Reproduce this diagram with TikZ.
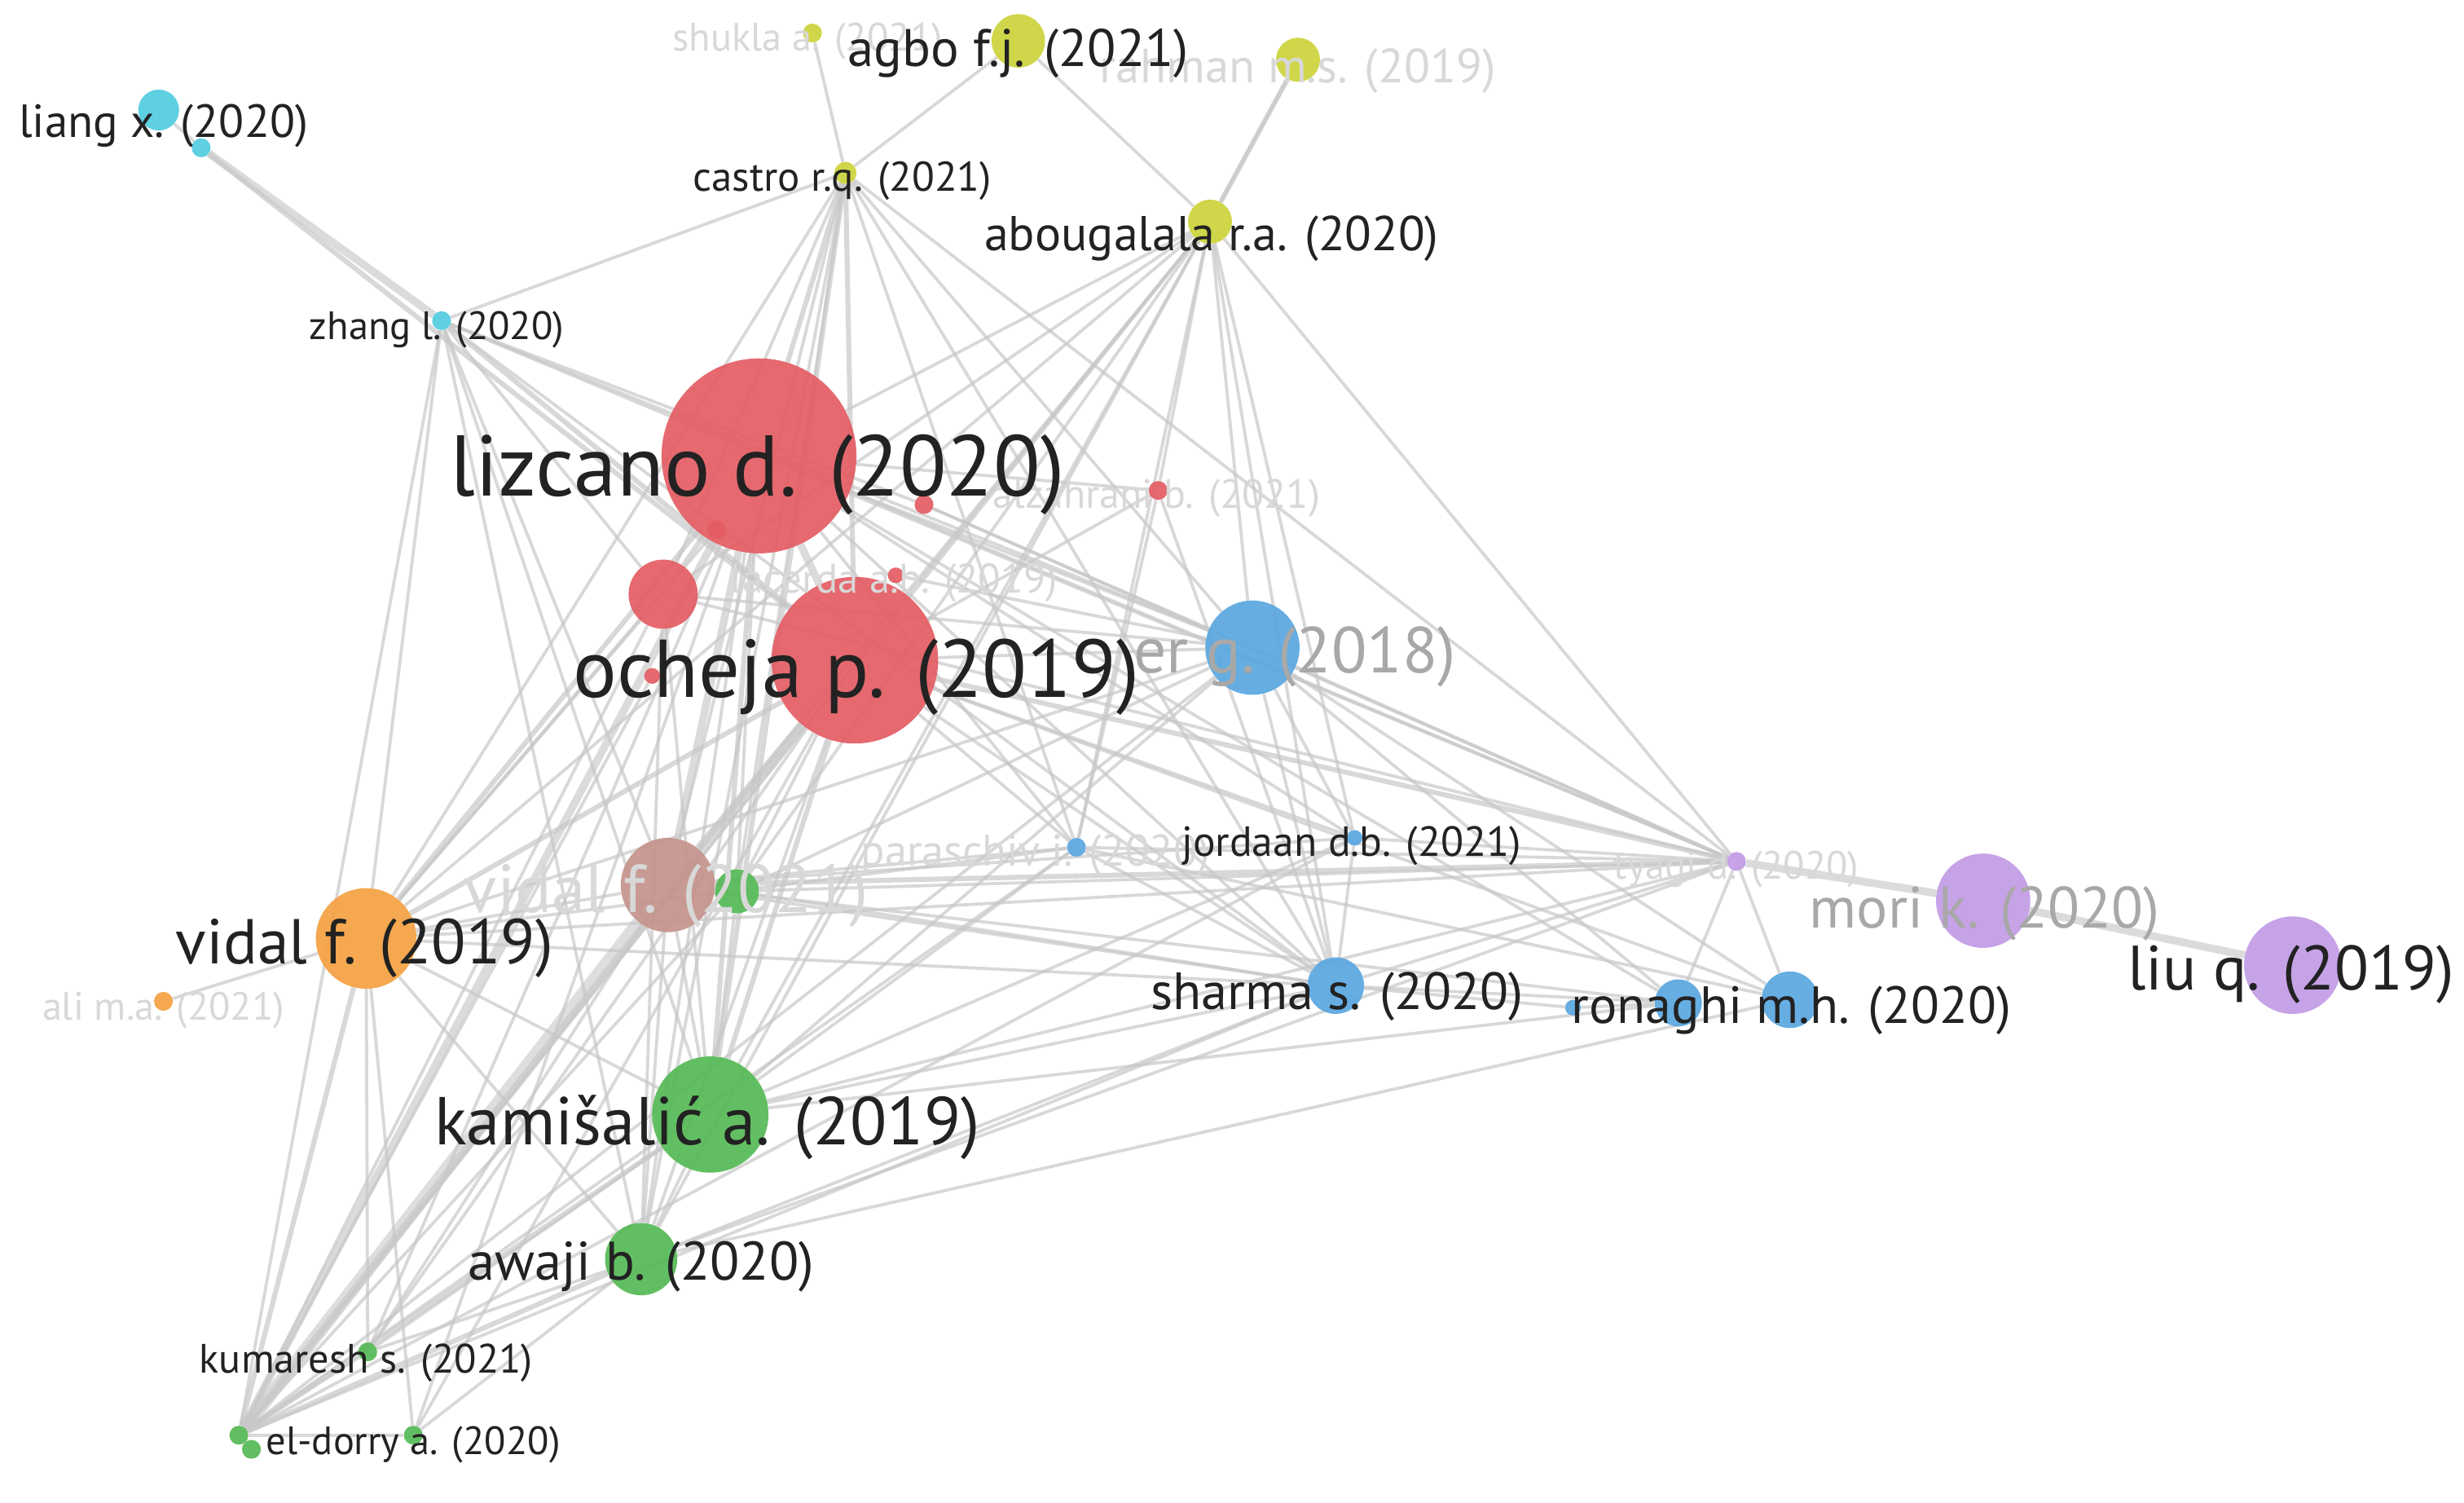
\documentclass[tikz,border=0pt]{standalone}
\usepackage{fontspec}
\setmainfont{PT Sans}
\usepackage{graphicx}
\usetikzlibrary{backgrounds}
\newlength\pxu
\setlength\pxu{0.05cm}
\definecolor{cRed}{HTML}{E35D63}
\definecolor{cBlue}{HTML}{5AA7E0}
\definecolor{cYel}{HTML}{CDD33A}
\definecolor{cCya}{HTML}{52CBE0}
\definecolor{cGrn}{HTML}{55B955}
\definecolor{cOra}{HTML}{F5A142}
\definecolor{cBro}{HTML}{C4948C}
\definecolor{cPur}{HTML}{C29BE6}
\definecolor{cEdge}{HTML}{C8C8C8}
\definecolor{cDark}{HTML}{222222}
\definecolor{cFaint}{HTML}{D8D8D8}
\definecolor{cMid}{HTML}{A8A8A8}
\tikzset{
  bub/.style 2 args={circle,fill=#1,fill opacity=0.92,draw=none,minimum size=#2*0.1cm,inner sep=0pt},
  lab/.style={inner sep=0pt,text=cDark},
  labfaint/.style={inner sep=0pt,text=cFaint},
  labmid/.style={inner sep=0pt,text=cMid},
  eA/.style={draw=cEdge,line width=2.8pt,opacity=0.7},
  eB/.style={draw=cEdge,line width=4.5pt,opacity=0.7},
  eC/.style={draw=cEdge,line width=7pt,opacity=0.65},
  eD/.style={draw=cEdge,line width=12pt,opacity=0.6},
}
\newcommand\lbl[2]{\resizebox{#1\pxu}{!}{#2}}
\begin{document}
\begin{tikzpicture}[x=0.05cm,y=-0.05cm]
\useasboundingbox (0,0) rectangle (1568,956);
% bubbles
\node[bub={cYel}{6}] (shu) at (517,21) {};
\node[bub={cYel}{17}] (agb) at (648,26) {};
\node[bub={cYel}{14}] (rah) at (826,38) {};
\node[bub={cYel}{7}] (cas) at (538,110) {};
\node[bub={cYel}{14}] (abo) at (770,141) {};
\node[bub={cCya}{13}] (lia) at (101,70) {};
\node[bub={cCya}{6}] (lib) at (128,94) {};
\node[bub={cCya}{6}] (zha) at (281,204) {};
\node[bub={cRed}{62}] (liz) at (483,290) {};
\node[bub={cRed}{53}] (och) at (544,420) {};
\node[bub={cRed}{22}] (rm) at (422,378) {};
\node[bub={cRed}{6}] (r1) at (588,321) {};
\node[bub={cRed}{6}] (r2) at (456,337) {};
\node[bub={cRed}{5}] (lac) at (570,366) {};
\node[bub={cRed}{5}] (r3) at (415,430) {};
\node[bub={cRed}{6}] (alz) at (737,312) {};
\node[bub={cBlue}{30}] (bg) at (797,412) {};
\node[bub={cBlue}{6}] (par) at (685,539) {};
\node[bub={cBlue}{5}] (jor) at (862,533) {};
\node[bub={cBlue}{18}] (sha) at (850,627) {};
\node[bub={cBlue}{5}] (b1) at (1001,641) {};
\node[bub={cBlue}{15}] (ron) at (1068,638) {};
\node[bub={cBlue}{18}] (ron2) at (1139,636) {};
\node[bub={cBro}{30}] (vbr) at (425,563) {};
\node[bub={cGrn}{14}] (g1) at (469,567) {};
\node[bub={cGrn}{37}] (kam) at (452,709) {};
\node[bub={cGrn}{23}] (awa) at (408,801) {};
\node[bub={cGrn}{6}] (kum) at (234,860) {};
\node[bub={cGrn}{6}] (eld) at (263,913) {};
\node[bub={cGrn}{6}] (ga) at (152,913) {};
\node[bub={cGrn}{6}] (gb) at (160,922) {};
\node[bub={cOra}{32}] (vid) at (233,597) {};
\node[bub={cOra}{6}] (ali) at (104,637) {};
\node[bub={cPur}{6}] (tya) at (1105,548) {};
\node[bub={cPur}{30}] (mor) at (1262,573) {};
\node[bub={cPur}{31}] (liu) at (1459,614) {};
% edges
\begin{pgfonlayer}{background}
\fill[white] (0,0) rectangle (1568,956);
\foreach \a/\b in {shu/cas,agb/cas,agb/abo,rah/abo,cas/zha,cas/rm,cas/vid,cas/vbr,cas/g1,cas/awa,cas/par,cas/bg,cas/sha,cas/tya,
 abo/liz,abo/och,abo/bg,abo/par,abo/jor,abo/sha,abo/tya,abo/vbr,abo/kam,abo/awa,abo/g1,abo/alz,abo/ga,abo/rm,abo/vid,
 zha/rm,zha/bg,zha/tya,zha/vid,zha/ga,zha/sha,zha/kam,zha/r1,zha/vbr,zha/awa,
 liz/awa,liz/kum,liz/eld,liz/tya,liz/bg,liz/sha,liz/par,liz/g1,liz/ron,liz/jor,
 och/awa,och/kum,och/bg,och/sha,och/ron2,och/jor,och/par,och/g1,och/eld,
 rm/vid,rm/ga,rm/kam,rm/tya,rm/bg,rm/awa,
 vbr/jor,vbr/sha,vbr/vid,vbr/kam,vbr/awa,vbr/ron,vbr/par,vbr/kum,
 g1/tya,g1/ga,g1/kam,g1/sha,g1/bg,
 vid/ali,vid/tya,vid/kam,vid/awa,vid/kum,vid/bg,vid/sha,vid/eld,vid/par,
 kam/tya,kam/sha,kam/bg,kam/ron,kam/awa,kam/par,kam/kum,kam/jor,
 awa/eld,awa/sha,awa/tya,awa/kum,awa/ron2,
 kum/ga,eld/ga,ga/par,ga/sha,ga/bg,ga/jor,
 bg/tya,bg/sha,bg/ron2,bg/jor,bg/ron,
 tya/ron,tya/ron2,tya/sha,tya/jor,tya/par,
 sha/b1,sha/ron,b1/ron,jor/sha,par/sha,par/ron2,
 alz/sha,alz/och,alz/liz,alz/par,r1/bg,r1/tya,lac/bg,r2/vid,r3/ga,lia/lib}
 {\draw[eA] (\a) -- (\b);}
\foreach \a/\b in {rah/abo,liz/rm,liz/kam,och/vid,och/kam,och/tya,vbr/tya,vid/ga,kam/ga,awa/ga,zha/och,cas/liz,cas/och,cas/kam,liz/vid,lib/och}
 {\draw[eB] (\a) -- (\b);}
\foreach \a/\b in {lib/zha,liz/och,liz/vbr,och/vbr,liz/ga,tya/mor,mor/liu,och/ga}
 {\draw[eC] (\a) -- (\b);}
\foreach \a/\b in {vbr/ga,ga/gb}
 {\draw[eD] (\a) -- (\b);}
\end{pgfonlayer}
% faint labels
\node[labfaint] (Lshu) at (514,26) {\lbl{172}{shukla a. (2021)}};
\node[labfaint] (Lrah) at (826,45) {\lbl{252}{rahman m.s. (2019)}};
\node[labfaint] (Lalz) at (736,317) {\lbl{208}{alzahrani b. (2021)}};
\node[labfaint] (Llac) at (569,371) {\lbl{208}{lacerda a.b. (2019)}};
\node[labfaint] (Lpar) at (659,544) {\lbl{222}{paraschiv i. (2020)}};
\node[labfaint] (Lvbr) at (424,570) {\lbl{257}{vidal f. (2021)}};
\node[labfaint] (Lali) at (104,643) {\lbl{154}{ali m.a. (2021)}};
\node[labfaint] (Ltya) at (1105,553) {\lbl{156}{tyagi d. (2020)}};
\node[labmid] (Lbg) at (824,418) {\lbl{205}{er g. (2018)}};
\node[labmid] (Lmor) at (1263,581) {\lbl{223}{mori k. (2020)}};
% dark labels
\node[lab] (Lagb) at (648,34) {\lbl{217}{agbo f.j. (2021)}};
\node[lab] (Lcas) at (536,115) {\lbl{190}{castro r.q. (2021)}};
\node[lab] (Labo) at (771,152) {\lbl{289}{abougalala r.a. (2020)}};
\node[lab] (Llia) at (104,80) {\lbl{184}{liang x. (2020)}};
\node[lab] (Lzha) at (278,210) {\lbl{162}{zhang l. (2020)}};
\node[lab] (Lliz) at (482,302) {\lbl{391}{lizcano d. (2020)}};
\node[lab] (Loch) at (545,431) {\lbl{360}{ocheja p. (2019)}};
\node[lab] (Ljor) at (860,538) {\lbl{216}{jordaan d.b. (2021)}};
\node[lab] (Lsha) at (851,634) {\lbl{237}{sharma s. (2020)}};
\node[lab] (Lron) at (1140,643) {\lbl{280}{ronaghi m.h. (2020)}};
\node[lab] (Lvid) at (232,603) {\lbl{240}{vidal f. (2019)}};
\node[lab] (Lkam) at (450,717) {\lbl{347}{kamišalić a. (2019)}};
\node[lab] (Lawa) at (408,806) {\lbl{220}{awaji b. (2020)}};
\node[lab] (Lkum) at (233,867) {\lbl{212}{kumaresh s. (2021)}};
\node[lab] (Leld) at (263,919) {\lbl{187}{el-dorry a. (2020)}};
\node[lab] (Lliu) at (1458,620) {\lbl{208}{liu q. (2019)}};
\end{tikzpicture}
\end{document}
